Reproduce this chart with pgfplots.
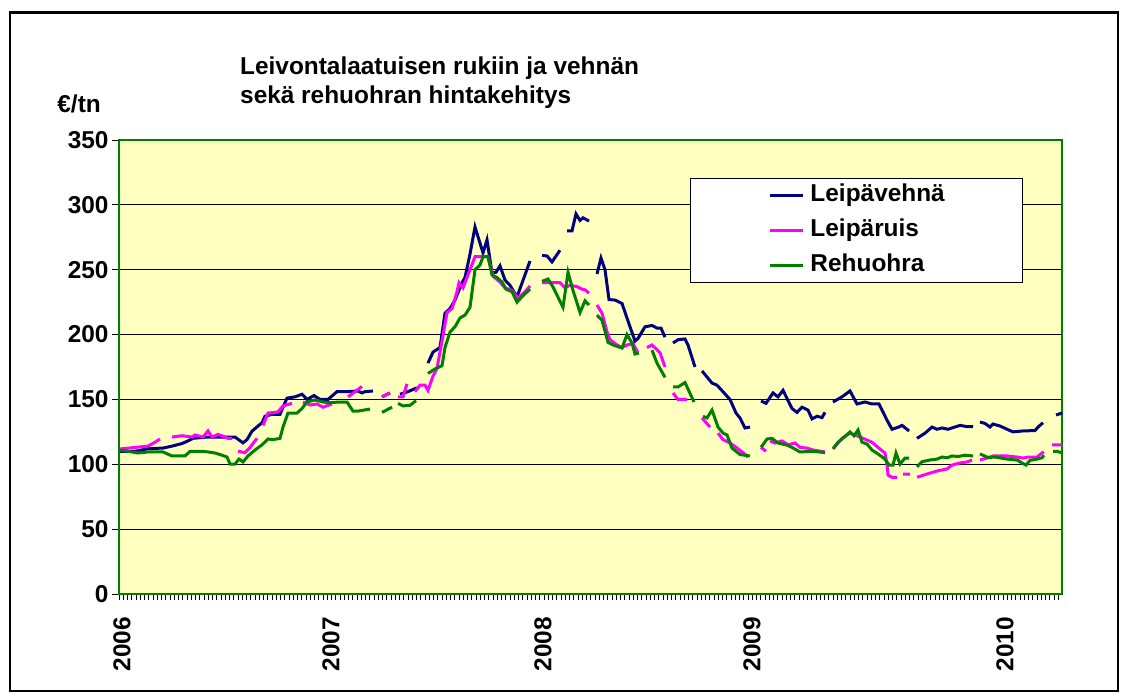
\documentclass[border=0pt]{standalone}
\usepackage{fontspec}
\setmainfont{Liberation Sans}
\usepackage{pgfplots}
\pgfplotsset{compat=1.18}
\definecolor{bgyellow}{RGB}{255,255,192}
\definecolor{axgreen}{RGB}{0,128,0}
\definecolor{navy}{RGB}{0,0,128}
\definecolor{magen}{RGB}{255,0,255}
\definecolor{sgreen}{RGB}{0,128,0}
\newcommand{\bigf}{\bfseries\fontsize{24.5}{29}\selectfont}
\begin{document}
\begin{tikzpicture}
\useasboundingbox (0,0) rectangle (1121bp,693bp);
\draw[line width=2.5bp] (10bp,680.5bp) rectangle (1118bp,2bp);
\node[anchor=base west, inner sep=0pt, font=\bigf] at (240bp,618bp) {Leivontalaatuisen rukiin ja vehnän};
\node[anchor=base west, inner sep=0pt, font=\bigf] at (240bp,589bp) {sekä rehuohran hintakehitys};
\node[anchor=base east, inner sep=0pt, font=\bigf] at (101bp,580bp) {€/tn};
\begin{axis}[
  at={(119bp,99bp)}, anchor=south west,
  scale only axis, width=943bp, height=454bp,
  xmin=119, xmax=1062, ymin=0, ymax=350,
  axis background/.style={fill=bgyellow},
  axis line style={draw=axgreen, line width=2.5bp},
  ytick={0,50,...,350},
  ymajorgrids, grid style={black, line width=1bp},
  xtick={122,331,543,752,1005}, xticklabels={2006,2007,2008,2009,2010},
  minor xtick={119,123.25,...,1062},
  tick align=outside, tick pos=left,
  every major x tick/.append style={draw=none},
  every major y tick/.append style={black, line width=0.8bp},
  every minor x tick/.append style={black, line width=0.6bp},
  major tick length=7bp, minor tick length=6bp,
  /pgf/number format/assume math mode=true,
  ticklabel style={font=\bigf},
  xticklabel style={rotate=90, anchor=east, inner sep=0pt},
  xticklabel shift=16bp,
  unbounded coords=jump,
  legend cell align=left,
  legend image code/.code={\path (-78bp,0bp); \draw[#1] (0bp,0bp) -- (33bp,0bp);},
  legend style={at={(0.6055,0.916)}, anchor=north west, draw=black, line width=1bp, fill=white,
    inner xsep=0bp, inner ysep=3bp, row sep=7bp, column sep=3bp, font=\bigf,
    nodes={text width=209bp, text height=17bp, text depth=5bp, inner xsep=3bp, inner ysep=3bp}},
]
\addplot[navy, line width=3bp] table {
x y
120 110
135 110
148 112
163 112.5
172 114
182 116
188 118
193 120
207 121
228 121
235 121
243 116.5
247 119
252 125.5
258 129.5
262 132
265 137
272 138.5
280 138.5
283 144
287 151
295 152
302 154
307 150
314 153
320 150
328 150
337 156
347 156
358 156.5
362 155
365 156
373 156.5
374 nan
382 152
390 155
395 nan
400 154
408 156
417 159
420 nan
428 178
433 186.5
440 190
445 216.5
450 220
455 226.6
462 240
465 244
470 262
475 283
483 263
487 273
492 247.5
496 248
500 253
505 242
510 238
517 229
530 256.7
535 nan
542 261
547 260.6
552 256
560 265
563 nan
567 280
572 280
576 293
580 288
583 290
589 287.5
592 nan
597 246.7
601 259
605 250
609 227
615 226.6
622 224
630 206
635 195
638 197
645 206
652 207
657 205
661 205
665 198
668 nan
673 193.5
678 196
685 196.6
688 192
695 175
698 nan
702 172
712 162.6
717 161
730 150
736 139.5
740 135.7
745 128
750 128.7
755 nan
761 148.8
766 147
773 155
778 152
783 157
792 143
797 140
802 144
808 141.8
812 135
817 137
822 136
825 140
829 nan
833 148
842 152
850 156.5
857 146.5
865 148
872 146.5
879 146.5
887 134
892 127
898 128.5
902 130
909 125.7
913 nan
917 120
925 124
932 128.7
937 127
942 128
948 127
960 130
967 129
973 129
976 nan
980 132.6
985 131.5
990 128.7
993 131
1000 129.5
1007 127
1013 125
1023 125.7
1035 126
1038 128.7
1043 132
1050 nan
1056 138
1062 139.5
};
\addlegendentry{Leipävehnä}
\addplot[magen, line width=3bp] table {
x y
120 111.8
135 113
148 114
155 117
160 119.5
166 nan
172 121
182 122
192 121
195 122.6
203 121
208 125.7
212 121
218 123
222 122
228 120
232 120
235 nan
238 110
245 109
250 113
257 120
260 nan
263 130
268 139.5
275 140
278 140.5
283 145
292 147
297 nan
303 148
310 145.7
317 146.5
323 144
332 146.5
340 nan
348 152
362 160
372 nan
382 152
390 155
394 nan
398 152
403 152
407 162
411 nan
415 156
420 161
425 161
428 157
433 168
437 174
442 195
447 217
452 220
457 233
459 240
463 236
470 250
475 260
483 260
488 260
493 245
500 240.5
505 236
512 234
518 228
525 233
530 237.5
536 nan
542 240
552 240
560 240
565 236
570 238
577 237
582 235
585 234.5
589 232
593 nan
597 222.8
602 216.5
607 202
610 196
617 192
622 190
627 192
633 193
638 186
642 nan
647 190
652 192
660 186
665 175
669 nan
673 155
678 150
687 150
695 nan
702 135.7
710 128.7
714 nan
718 124
723 119
730 116.5
737 112.5
743 109
748 105.6
755 nan
761 113
766 110
768 nan
770 118
775 116.4
782 118
788 115
795 116.4
800 113
807 112.5
813 111
825 109.5
829 nan
833 111.8
842 120
850 124
855 122.6
863 120
872 117
878 113
885 108.7
887 99.4
888 91.7
892 90
897 90
900 nan
903 92.5
910 92.5
913 nan
917 90
927 92.5
937 94.8
947 96.4
952 99.4
960 101
967 101.8
972 103.3
976 nan
980 103.3
987 104.8
993 106.4
1007 106.4
1017 105.6
1023 104.8
1028 105.6
1037 105.6
1042 108.7
1044 109.5
1048 nan
1052 115
1062 115
};
\addlegendentry{Leipäruis}
\addplot[sgreen, line width=3bp] table {
x y
120 111
128 110
138 108.7
148 109.5
163 109.5
172 106.4
185 106.4
190 110
203 110
208 109.5
215 108.7
222 107
227 105.6
230 100.2
235 100.2
239 104
243 101.8
248 106.4
255 111
262 115
268 119.5
273 119
280 120
283 128.7
288 139.5
297 139.5
302 143
307 148
315 149.6
323 148
330 147.5
340 148
347 148
353 141
358 141
370 142.6
376 nan
382 140
392 144
395 nan
398 147
403 145
410 145.5
416 149
422 nan
428 170
435 173.5
442 176
445 190
450 202
455 206
460 212.8
465 215
470 221
475 250
480 253.6
483 260
488 260
492 246
497 244
502 240.5
506 235
512 233
517 225
523 230
530 235
536 nan
542 241
548 242.8
553 236.7
563 221
568 248
573 234
580 217
585 226
589 222.8
593 nan
597 215
602 211
608 194
613 192
622 189.6
627 200
632 193.5
635 185
639 185.8
645 nan
652 188
657 178
665 167
669 nan
673 159.6
678 159.6
685 163
688 158
694 148
698 nan
703 137
707 135.7
712 141.8
718 128.7
723 124
727 122.6
732 112.5
740 107.5
750 106.4
755 nan
761 113
767 119.5
772 120
778 116.4
787 114.8
792 113
800 109.5
813 110
825 109
829 nan
833 112
838 117
842 119.5
850 124.9
854 122
858 126.4
862 117
867 115.6
872 111
878 108
885 104
889 99.4
893 99.4
896 108.7
900 100.2
905 104.8
909 104.8
913 nan
917 98
922 102
930 103.3
937 104
942 105.6
947 105
952 106.4
958 106
965 107
973 106.4
976 nan
980 108
988 105.2
995 105.6
1007 104
1017 103.3
1022 101
1026 99.4
1030 103
1037 104
1042 105
1044 107
1048 nan
1053 110
1057 110
1062 108.7
};
\addlegendentry{Rehuohra}
\end{axis}
\end{tikzpicture}
\end{document}
